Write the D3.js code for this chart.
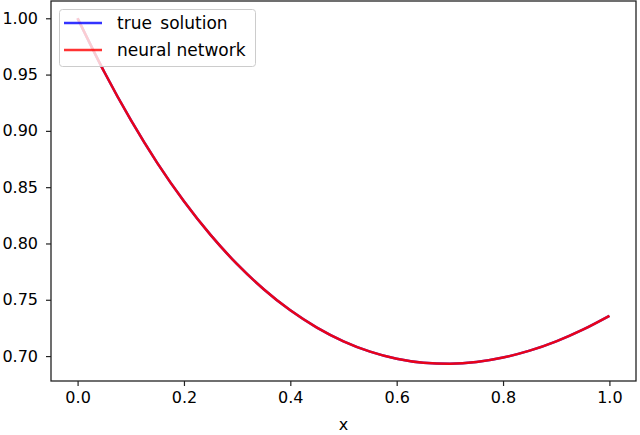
<!DOCTYPE html>
<html>
<head>
<meta charset="utf-8">
<script src="https://cdn.jsdelivr.net/npm/d3@7"></script>
<style>
  body { margin: 0; background: #fff; }
  text { font-family: "DejaVu Sans", sans-serif; fill: #000; }
</style>
</head>
<body>
<div id="chart"></div>
<script>
// values
var xs = [0, 0.05, 0.1, 0.15, 0.2, 0.25, 0.3, 0.35, 0.4, 0.45, 0.5,
          0.55, 0.6, 0.65, 0.7, 0.75, 0.8, 0.85, 0.9, 0.95, 1.0];
var trueSolution = [1.000, 0.9525, 0.9097, 0.8714, 0.8375, 0.8076, 0.7816, 0.7594, 0.7406, 0.7253, 0.7131,
                    0.7039, 0.6976, 0.6941, 0.6932, 0.6947, 0.6987, 0.7048, 0.7131, 0.7235, 0.7358];
var neuralNet = [1.000, 0.9525, 0.9097, 0.8714, 0.8375, 0.8076, 0.7816, 0.7594, 0.7406, 0.7253, 0.7131,
                 0.7039, 0.6976, 0.6941, 0.6932, 0.6947, 0.6987, 0.7048, 0.7131, 0.7235, 0.7358];
var xTicks = [0.0, 0.2, 0.4, 0.6, 0.8, 1.0];
var yTicks = [0.70, 0.75, 0.80, 0.85, 0.90, 0.95, 1.00];
var seriesNames = ["true solution", "neural network"];
var seriesColors = ["#0000ff", "#ff0000"];

var width = 640,
    height = 435,
    margin = {top: 1, right: 4, bottom: 54, left: 51};

var svg = d3.select("#chart").append("svg")
    .attr("width", width)
    .attr("height", height);

var x = d3.scaleLinear()
    .domain([-0.05, 1.05])
    .range([margin.left, width - margin.right]);

var yMin = d3.min(trueSolution), yMax = d3.max(trueSolution), pad = (yMax - yMin) * 0.05;
var y = d3.scaleLinear()
    .domain([yMin - pad, yMax + pad])
    .range([height - margin.bottom, margin.top]);

// axes
var xAxis = svg.append("g")
    .attr("transform", "translate(0," + (height - margin.bottom) + ")")
    .call(d3.axisBottom(x).tickValues(xTicks).tickFormat(d3.format(".1f")).tickSize(5).tickPadding(6));

var yAxis = svg.append("g")
    .attr("transform", "translate(" + margin.left + ",0)")
    .call(d3.axisLeft(y).tickValues(yTicks).tickFormat(d3.format(".2f")).tickSize(5).tickPadding(8));

[xAxis, yAxis].forEach(function(a) {
  a.select(".domain").remove();
  a.selectAll("line").attr("stroke", "#222").attr("stroke-width", 1.2);
  a.selectAll("text").style("font-size", "16px").style("font-family", "DejaVu Sans").attr("fill", "#111");
});

// lines
var line = d3.line()
    .x(function(d, i) { return x(xs[i]); })
    .y(function(d) { return y(d); })
    .curve(d3.curveMonotoneX);

var opac = [0.85, 0.9];
[trueSolution, neuralNet].forEach(function(s, i) {
  svg.append("path")
      .attr("d", line(s))
      .attr("fill", "none")
      .attr("stroke", seriesColors[i])
      .attr("stroke-opacity", opac[i])
      .attr("stroke-width", 2.5);
});

// frame
svg.append("rect")
    .attr("x", margin.left)
    .attr("y", margin.top)
    .attr("width", width - margin.left - margin.right)
    .attr("height", height - margin.top - margin.bottom)
    .attr("fill", "none")
    .attr("stroke", "#222")
    .attr("stroke-width", 1.3);

// x label
svg.append("text")
    .attr("x", (margin.left + width - margin.right) / 2)
    .attr("y", 430)
    .attr("text-anchor", "middle")
    .style("font-size", "16px")
    .attr("fill", "#111")
    .text("x");

// legend
var legend = svg.append("g");
legend.append("rect")
    .attr("x", 59.5).attr("y", 9.5)
    .attr("width", 196).attr("height", 57)
    .attr("rx", 3)
    .attr("fill", "#fff").attr("fill-opacity", 0.8)
    .attr("stroke", "#cccccc").attr("stroke-width", 1);

seriesNames.forEach(function(name, i) {
  var ly = 23 + i * 27;
  legend.append("line")
      .attr("x1", 64).attr("x2", 102)
      .attr("y1", ly).attr("y2", ly)
      .attr("stroke", seriesColors[i])
      .attr("stroke-opacity", 0.8)
      .attr("stroke-width", 2.5);
  legend.append("text")
      .attr("x", 117).attr("y", ly)
      .attr("dy", "0.35em")
      .style("font-size", "17px")
      .style("word-spacing", i === 0 ? "3px" : "0px")
      .attr("fill", "#111")
      .text(name);
});
</script>
</body>
</html>
